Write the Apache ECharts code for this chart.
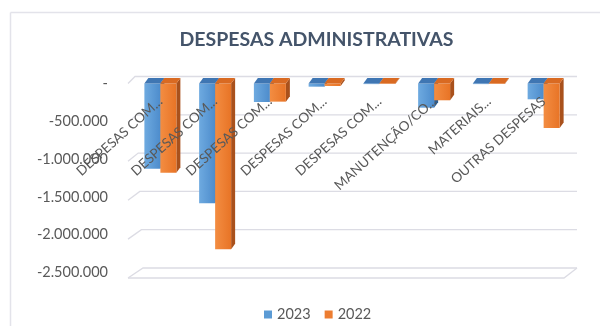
<!DOCTYPE html>
<html>
<head>
<meta charset="utf-8">
<script src="https://cdn.jsdelivr.net/npm/echarts@6/dist/echarts.min.js"></script>
<style>html,body{margin:0;padding:0;background:#fff;}#c{width:600px;height:326px;}</style>
</head>
<body>
<div id="c"></div>
<script>
var categories = ['DESPESAS COM...', 'DESPESAS COM...', 'DESPESAS COM...', 'DESPESAS COM...', 'DESPESAS COM...', 'MANUTENÇÃO/CO...', 'MATERIAIS...', 'OUTRAS DESPESAS'];
var values2023 = [-1127000, -1585000, -245000, -42000, -8000, -320000, -8000, -209000];
var values2022 = [-1180000, -2193000, -240000, -33000, -6000, -222000, -7000, -589000];
var yTicks = [0, -500000, -1000000, -1500000, -2000000, -2500000];
var seriesNames = ['2023', '2022'];

var Y_MIN = -2500000;
var GRID_H = 189;
function fmt(v) {
  if (v === 0) return '-';
  var s = String(Math.abs(v)).replace(/\B(?=(\d{3})+(?!\d))/g, '.');
  return (v < 0 ? '-' : '') + s;
}

function barRender(offsetSide, front, top, sideC) {
  return function (params, api) {
    var idx = api.value(0), v = api.value(1);
    var p0 = api.coord([idx, 0]);
    var p1 = api.coord([idx, v]);
    var w = 16, dx = 4, dy = 5.5;
    var x = offsetSide < 0 ? p0[0] - w : p0[0];
    var y0 = p0[1], y1 = p1[1];
    return {
      type: 'group',
      children: [
        { type: 'polygon', shape: { points: [[x + w, y0], [x + w + dx, y0 - dy], [x + w + dx, y1 - dy], [x + w, y1]] }, style: { fill: sideC } },
        { type: 'rect', shape: { x: x, y: y0, width: w, height: Math.max(0, y1 - y0) },
          style: { fill: new echarts.graphic.LinearGradient(0, 0, 1, 0, [{ offset: 0, color: front[0] }, { offset: 1, color: front[1] }]) } },
        { type: 'polygon', shape: { points: [[x, y0], [x + w, y0], [x + w + dx, y0 - dy], [x + dx, y0 - dy]] }, style: { fill: top } }
      ]
    };
  };
}

function gridRender(params, api) {
  var cs = params.coordSys;
  var v = api.value(1);
  var yc = api.coord([0, v])[1];
  var frac = v / Y_MIN;
  var yf = yc + 5.5 * frac;
  var yb = yc - 7 + 2.5 * frac;
  var xl = cs.x - 5;
  var dxs = 7 + 8 * frac;
  var xr = cs.x + cs.width + 6;
  var children = [
    { type: 'polyline', shape: { points: [[xl, yf], [xl + dxs, yb], [xr, yb]] }, style: { stroke: '#dcdce4', lineWidth: 1.3, fill: null } }
  ];
  if (frac === 1) {
    children.push({ type: 'polyline', shape: { points: [[xl, yf], [xr - 13, yf], [xr, yb]] }, style: { stroke: '#dcdce4', lineWidth: 1.3, fill: null } });
  }
  return { type: 'group', children: children };
}

var chart = echarts.init(document.getElementById('c'), null, { renderer: 'canvas' });
chart.setOption({
  animation: false,
  backgroundColor: '#ffffff',
  title: {
    text: 'DESPESAS ADMINISTRATIVAS',
    left: 311.5, top: 25, textAlign: 'center',
    textStyle: { fontFamily: 'Lato', fontWeight: 'bold', fontSize: 19.5, color: '#44546a' }
  },
  legend: {
    data: seriesNames,
    left: 259, top: 302, itemWidth: 8, itemHeight: 8, itemGap: 14, icon: 'rect',
    textStyle: { fontFamily: 'Lato', fontSize: 14.5, color: '#595959' }
  },
  grid: { left: 133, right: 29, top: 83.5, height: GRID_H, containLabel: false, outerBoundsMode: 'none' },
  xAxis: {
    type: 'category', data: categories, position: 'bottom', offset: -GRID_H, z: 10,
    axisLine: { show: false, onZero: false }, axisTick: { show: false }, splitLine: { show: false },
    axisLabel: { interval: 0, rotate: 42, margin: 16, fontFamily: 'Lato', fontSize: 13.5, color: '#595959' }
  },
  yAxis: {
    type: 'value', min: Y_MIN, max: 0, interval: 500000,
    axisLine: { show: false }, axisTick: { show: false }, splitLine: { show: false },
    axisLabel: { margin: 25, formatter: fmt, fontFamily: 'Lato', fontSize: 14.5, color: '#595959' }
  },
  graphic: [
    { type: 'line', shape: { x1: 10.5, y1: 12.5, x2: 10.5, y2: 326 }, style: { stroke: '#e3e3ea', lineWidth: 1.5 } },
    { type: 'line', shape: { x1: 10.5, y1: 12.5, x2: 600, y2: 12.5 }, style: { stroke: '#e3e3ea', lineWidth: 1.5 } }
  ],
  series: [
    { name: 'grid', type: 'custom', renderItem: gridRender, data: yTicks.map(function (v) { return [0, v]; }), z: 1, silent: true },
    { name: seriesNames[0], type: 'custom', itemStyle: { color: '#5b9bd5' }, z: 2,
      renderItem: barRender(-1, ['#6eaae0', '#4d8ccc'], '#3f76b3', '#2d5e90'),
      data: values2023.map(function (v, i) { return [i, v]; }) },
    { name: seriesNames[1], type: 'custom', itemStyle: { color: '#ed7d31' }, z: 3,
      renderItem: barRender(1, ['#f38d42', '#e87426'], '#d96a22', '#a9511c'),
      data: values2022.map(function (v, i) { return [i, v]; }) }
  ]
});
</script>
</body>
</html>
